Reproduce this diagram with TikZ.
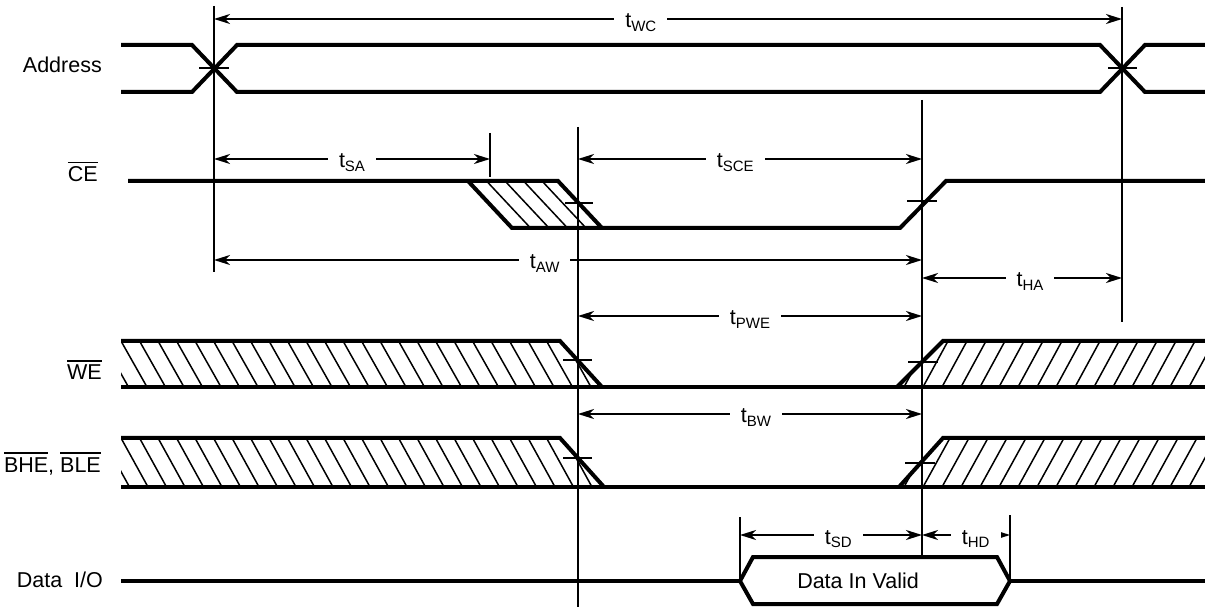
\documentclass[tikz,border=0pt]{standalone}
\usepackage{fontspec}
\setmainfont{Liberation Sans}
\usetikzlibrary{positioning, arrows.meta}
\tikzstyle{sig} = [line width=4pt]
\tikzstyle{vline} = [line width=2pt]
\tikzstyle{hatch} = [line width=1.5pt]
\tikzstyle{dimarrow} = [line width=2pt, {Stealth[length=16pt,width=10pt,inset=5pt]}-{Stealth[length=16pt,width=10pt,inset=5pt]}]
\tikzstyle{signame} = [anchor=base east, inner sep=0pt]
\tikzstyle{tlabel} = [fill=white, anchor=base, yshift=-9pt, inner xsep=11pt, inner ysep=1pt]
\newcommand{\tsub}[1]{t\raisebox{-3.5pt}{\fontsize{15}{15}\selectfont #1}}
\newcommand{\ovl}[1]{\vbox{\hrule height 1.6pt\kern 3.5pt\hbox{#1}}}

\begin{document}
\begin{tikzpicture}[x=1pt, y=-1pt, font=\fontsize{21.5}{24}\selectfont]

    \useasboundingbox (0,0) rectangle (1205,609);

    % signal names
    \node[signame] (addr) at (102,73) {Address};
    \node[signame] (ce) at (98,182) {\ovl{CE}};
    \node[signame] (we) at (102,380) {\ovl{WE}};
    \node[signame] (bhe) at (101,472) {\ovl{BHE}, \ovl{BLE}};
    \node[signame] (dio) at (103,587) {Data\hspace{0.55em}I/O};

    % hatched (don't care) areas
    \foreach \x in {486.5,505,523.5,542}
        \draw[hatch] (\x,181) -- ++(44,47);
    \begin{scope}
        \clip (121,341) -- (560,341) -- (602,387) -- (121,387) -- cycle;
        \foreach \x in {84,102.5,...,600}
            \draw[hatch] (\x,341) -- ++(26,46);
    \end{scope}
    \begin{scope}
        \clip (943,341) -- (1205,341) -- (1205,387) -- (897,387) -- cycle;
        \foreach \x in {866,885,...,1215}
            \draw[hatch] (\x,387) -- ++(25,-46);
    \end{scope}
    \begin{scope}
        \clip (121,438) -- (560,438) -- (604,487) -- (121,487) -- cycle;
        \foreach \x in {84,102.5,...,600}
            \draw[hatch] (\x,438) -- ++(27,49);
    \end{scope}
    \begin{scope}
        \clip (943,438) -- (1205,438) -- (1205,487) -- (899,487) -- cycle;
        \foreach \x in {866,885,...,1215}
            \draw[hatch] (\x,487) -- ++(27,-49);
    \end{scope}

    % waveforms
    \draw[sig] (121,45) -- (192,45) -- (237,92) -- (1100,92) -- (1145,45) -- (1205,45);
    \draw[sig] (121,92) -- (192,92) -- (237,45) -- (1100,45) -- (1145,92) -- (1205,92);
    \draw[sig] (128,181) -- (558,181) -- (602,228);
    \draw[sig] (468,181) -- (512,228) -- (900,228) -- (946,181) -- (1205,181);
    \draw[sig] (121,341) -- (560,341) -- (602,387);
    \draw[sig] (121,387) -- (1205,387);
    \draw[sig] (897,387) -- (943,341) -- (1205,341);
    \draw[sig] (121,438) -- (560,438) -- (604,487);
    \draw[sig] (121,487) -- (1205,487);
    \draw[sig] (899,487) -- (943,438) -- (1205,438);
    \draw[sig] (121,581) -- (740,581);
    \draw[sig] (1010,581) -- (1205,581);
    \draw[sig] (740,581) -- (753,557) -- (997,557) -- (1010,581) -- (997,604) -- (753,604) -- cycle;
    \node (din) at (858,581) {Data In Valid};

    % reference lines and edge ticks
    \draw[vline] (214,6) -- (214,272);
    \draw[vline] (1122,7) -- (1122,322);
    \draw[vline] (490,133) -- (490,177);
    \draw[vline] (578,127) -- (578,607);
    \draw[vline] (922,100) -- (922,557);
    \draw[vline] (740,517) -- (740,581);
    \draw[vline] (1010,515) -- (1010,581);
    \foreach \a/\b/\y in {199/229/68, 1108/1137/68, 565/593/203, 907/937/201,
                          563/592/360, 908/938/362, 563/592/458, 905/935/463}
        \draw[vline] (\a,\y) -- (\b,\y);

    % timing parameters
    \coordinate (wcA) at (214,19);   \coordinate (wcB) at (1122,19);
    \coordinate (saA) at (214,159);  \coordinate (saB) at (490,159);
    \coordinate (sceA) at (578,159); \coordinate (sceB) at (922,159);
    \coordinate (awA) at (214,260);  \coordinate (awB) at (922,260);
    \coordinate (haA) at (922,278);  \coordinate (haB) at (1122,278);
    \coordinate (pweA) at (578,316); \coordinate (pweB) at (922,316);
    \coordinate (bwA) at (578,414);  \coordinate (bwB) at (922,414);
    \coordinate (sdA) at (740,535);  \coordinate (sdB) at (922,535);
    \coordinate (hdB) at (1010,535);

    \path[dimarrow]
        (wcA) edge node[tlabel, pos=.47] (twc) {\tsub{WC}} (wcB)
        (saA) edge node[tlabel] (tsa) {\tsub{SA}} (saB)
        (sceA) edge node[tlabel, pos=.457] (tsce) {\tsub{SCE}} (sceB)
        (awA) edge node[tlabel, pos=.467] (taw) {\tsub{AW}} (awB)
        (haA) edge node[tlabel, pos=.54] (tha) {\tsub{HA}} (haB)
        (pweA) edge node[tlabel] (tpwe) {\tsub{PWE}} (pweB)
        (bwA) edge node[tlabel, pos=.517] (tbw) {\tsub{BW}} (bwB)
        (sdA) edge node[tlabel, pos=.54] (tsd) {\tsub{SD}} (sdB)
        (sdB) edge node[tlabel, pos=.61] (thd) {\tsub{HD}} (hdB);

\end{tikzpicture}
\end{document}
